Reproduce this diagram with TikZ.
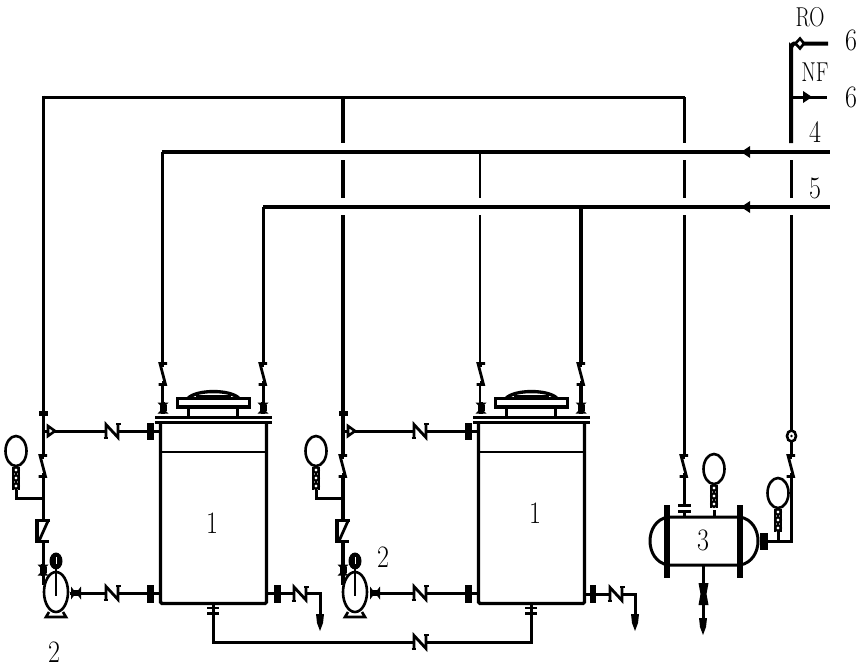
\documentclass[tikz,border=0pt]{standalone}
\usepackage{graphicx}
\tikzset{
  pipe/.style={line width=3pt,line cap=butt},
  thinpipe/.style={line width=1.8pt},
  heavy/.style={line width=4pt},
  vlv/.style={line width=2.8pt},
  lbl/.style={inner sep=0pt,font=\fontsize{26}{26}\selectfont},
  small/.style={inner sep=0pt,font=\fontsize{21}{21}\selectfont}
}
\newcommand{\lab}[2]{\scalebox{1}[#1]{#2}}
% vertical S valve, centre x,y
\newcommand{\svalve}[2]{\begin{scope}[shift={(#1,#2)}]
  \fill[white] (-5,-9) rectangle (5,9);
  \draw[vlv,line join=miter] (4,-10.5) -- (-3,-10.5) -- (2.5,10.5) -- (-4.5,10.5);
  \draw[vlv] (-2,-8) -- (1,-8) (-1,8) -- (2,8);
\end{scope}}
% horizontal N valve
\newcommand{\nvalve}[2]{\begin{scope}[shift={(#1,#2)}]
  \fill[white] (-6,-8) rectangle (6,8);
  \draw[vlv] (-6,7.5) -- (-6,-6.5) -- (6,6.5) -- (6,-7.5);
  \draw[line width=2pt] (-8.5,7) -- (-4,7) (4,-7) -- (8.5,-7);
\end{scope}}
% vertical bowtie valve
\newcommand{\xvalve}[2]{\fill (#1-5.5,#2-5.5) -- (#1+5.5,#2-5.5) -- (#1-5.5,#2+5.5) -- (#1+5.5,#2+5.5) -- cycle;
  \fill (#1-3.5,#2-3) rectangle (#1+3.5,#2+3);
  \fill (#1-2,#2-6) rectangle (#1+2,#2+6);}
% horizontal bowtie
\newcommand{\hbow}[2]{\fill (#1-5,#2-6.5) -- (#1+5,#2+6.5) -- (#1+5,#2-6.5) -- (#1-5,#2+6.5) -- cycle;
  \fill (#1-3,#2-3) rectangle (#1+3,#2+3);}
% flange
\newcommand{\flange}[4]{\fill (#1-#3/2,#2-#4/2) rectangle (#1+#3/2,#2+#4/2);}
% gauge: ellipse centre, then stacked beads downward
\newcommand{\gauge}[2]{\draw[line width=2.6pt,fill=white] (#1,#2) ellipse (10.5 and 15);
  \draw[line width=2.4pt] (#1-3.2,#2+16) -- (#1-3.2,#2+39) (#1+3.2,#2+16) -- (#1+3.2,#2+39);
  \foreach \k in {19,27,35}{\draw[line width=2.4pt,fill=white] (#1,#2+\k) circle (2.8);}}
% pump
\newcommand{\pump}[2]{\draw[line width=2.6pt,fill=white] (#1,#2) ellipse (12 and 20);
  \fill (#1,#2-31) ellipse (6.5 and 8.5);
  \fill[white] (#1-.5,#2-35) rectangle (#1+.5,#2-28);
  \draw[line width=2.6pt] (#1,#2-23) -- (#1,#2+4);
  \draw[line width=2.6pt,line join=miter] (#1-7,#2+20) -- (#1-10,#2+25) -- (#1+10,#2+25) -- (#1+7,#2+20);
  \hbow{#1+20}{#2+1}}
% down-pointing drain arrow
\newcommand{\drain}[2]{\fill (#1-4,#2-9) -- (#1+4,#2-9) -- (#1+3,#2) -- (#1,#2+8) -- (#1-3,#2) -- cycle;}
% open triangle on a horizontal pipe
\newcommand{\opent}[2]{\draw[line width=2.6pt,fill=white,line join=miter] (#1,#2-5) -- (#1+7,#2) -- (#1,#2+5) -- cycle;}
% tank
\newcommand{\tank}[1]{\begin{scope}[shift={(#1,0)}]
  \draw[line width=3.2pt,rounded corners=1.5pt] (160.5,423) -- (160.5,603.5) -- (266.5,603.5) -- (266.5,423);
  \draw[line width=1.9pt] (161,452) -- (266,452);
  \draw[line width=3pt] (155,417) -- (272,417);
  \draw[line width=3pt] (155,422.5) -- (272,422.5);
  \draw[line width=3pt] (188,408) -- (188,417) (237,408) -- (237,417);
  \draw[line width=3.2pt] (177.5,398.5) rectangle (249.5,407);
  \fill (187,397) .. controls (196,387.5) and (231,387.5) .. (240,397) -- (234,397) .. controls (226,392) and (201,392) .. (193,397) -- cycle;
  \draw[line width=2pt] (196,396) -- (231,396);
  \xvalve{163}{408}
  \xvalve{263}{408}
  \svalve{163}{374}
  \svalve{263}{374}
\end{scope}}
\begin{document}
\begin{tikzpicture}[x=1pt,y=-1pt]
\useasboundingbox (0,0) rectangle (864,667);
\fill[white] (0,0) rectangle (864,667);
% junctions and ends
\coordinate (topL) at (43,97);
\coordinate (topM) at (343,97);
\coordinate (topR) at (684,97);
\coordinate (l4a) at (162,152);
\coordinate (l4b) at (480,152);
\coordinate (l4e) at (830,152);
\coordinate (l5a) at (263,207);
\coordinate (l5b) at (581,207);
\coordinate (l5e) at (830,207);
% header lines
\draw[pipe] (43,97) -- (684.5,97);
\draw[pipe] (43,95.5) -- (43,585);
\draw[heavy] (topM) -- (343,143) (343,160) -- (343,198) (343,215) -- (343,585);
\draw[pipe] (topR) -- (684,143) (684,160) -- (684,198) (684,215) -- (684,505);
\draw[line width=3.6pt] (l4a) -- (l4e);
\draw[line width=3.6pt] (l5a) -- (l5e);
\draw[pipe] (l4a) -- (162,410);
\draw[thinpipe] (l4b) -- (480,198) (480,215) -- (480,410);
\draw[pipe] (l5a) -- (263,410);
\draw[heavy] (l5b) -- (581,410);
\fill (750,146) -- (750,158) -- (741,152) -- cycle;
\fill (750,201) -- (750,213) -- (741,207) -- cycle;
% right riser and product lines
\draw[heavy] (828,43.5) -- (794,43.5) to[out=180,in=-90] (791,47) -- (791,143);
\draw[pipe] (791,160) -- (791,198) (791,215) -- (791,541) -- (767,541);
\draw[pipe] (791,97) -- (827,97);
\draw[line width=2.6pt,fill=white] (800,38.5) -- (795.5,43.5) -- (800,48.5) -- (804,43.5) -- cycle;
\fill (803,91) -- (812,97) -- (803,103) -- cycle;
% tanks
\tank{0}
\tank{318}
% tank 1 piping
\draw[pipe] (43,431) -- (160,431);
\draw[pipe] (70,593) -- (160,593);
\opent{48}{431}
\nvalve{112}{431}
\nvalve{112}{593}
\flange{150}{431.5}{7}{17}
\flange{150}{593.5}{7}{18}
\fill (39,411) rectangle (48,416);
\svalve{43}{466}
\draw[pipe] (16,490) -- (16,498) -- (43,498);
\gauge{16}{451}
\fill[white] (36,521) rectangle (50,541);
\draw[line width=3.6pt,line join=miter] (50,520.5) -- (37,520.5) -- (37,541.5) -- (49,541.5);
\draw[vlv] (48,521) -- (39,541);
\xvalve{43}{570}
\pump{56}{592}
% tank 1 drain
\draw[pipe] (266,593.5) -- (320,593.5) -- (320,625);
\flange{277}{593.5}{7}{18}
\nvalve{300}{593.5}
\drain{320}{623}
% tank 2 piping
\draw[pipe] (343,431) -- (478,431);
\draw[pipe] (370,593) -- (478,593);
\opent{348}{431}
\nvalve{420}{431}
\nvalve{420}{593}
\flange{468}{431.5}{7}{17}
\flange{468}{593.5}{7}{18}
\fill (339,411) rectangle (348,416);
\svalve{343}{466}
\draw[pipe] (316,490) -- (316,498) -- (343,498);
\gauge{316}{451}
\fill[white] (336,521) rectangle (350,541);
\draw[line width=3.6pt,line join=miter] (350,520.5) -- (337,520.5) -- (337,541.5) -- (349,541.5);
\draw[vlv] (348,521) -- (339,541);
\xvalve{343}{570}
\pump{355}{592}
% tank 2 drain
\draw[pipe] (584,594) -- (635,594) -- (635,625);
\flange{593}{594}{6}{18}
\nvalve{616}{594}
\drain{635}{623}
% bottom transfer line
\draw[pipe] (213,604) -- (213,642) -- (531,642) -- (531,604);
\draw[line width=2.4pt] (207,608) -- (219,608) (207,613.5) -- (219,613.5);
\draw[line width=2.4pt] (525,608) -- (537,608) (525,613.5) -- (537,613.5);
\nvalve{420}{642}
% filter 3
\draw[line width=3pt,fill=white] (668,517) .. controls (644,521) and (644,561) .. (668,565) -- (740,565) .. controls (764,561) and (764,521) .. (740,517) -- cycle;
\fill (664,505) rectangle (670,578);
\fill (737,505) rectangle (743,578);
\draw[pipe] (684,511) -- (684,517);
\draw[line width=3pt] (678,505.5) -- (691,505.5) (678,511) -- (691,511);
\svalve{684}{466}
\draw[pipe] (714,510) -- (714,517);
\gauge{714}{469}
\draw[pipe] (703,565) -- (703,625);
\fill (698.5,583) -- (708.5,583) -- (706.5,594) -- (708.5,605) -- (698.5,605) -- (700.5,594) -- cycle;
\drain{703}{627}
\flange{764}{541.5}{7.5}{17}
\draw[pipe] (778,530) -- (778,541);
\gauge{778}{493}
\svalve{791}{466}
\draw[line width=2.6pt,fill=white] (791.5,436) ellipse (4.5 and 5.5);
\fill (791.5,436) circle (1.4);
% labels
\node[lbl] (n1a) at (212,523) {\lab{1.2}{1}};
\node[lbl] (n1b) at (535,513) {\lab{1.2}{1}};
\node[lbl] (n2a) at (54,652) {\lab{1.2}{2}};
\node[lbl] (n2b) at (383,557) {\lab{1.2}{2}};
\node[lbl] (n3) at (703,540) {\lab{1.2}{3}};
\node[lbl] (n4) at (815,132) {\lab{1.2}{4}};
\node[lbl] (n5) at (815,188) {\lab{1.2}{5}};
\node[lbl] (n6a) at (851,40) {\lab{1.2}{6}};
\node[lbl] (n6b) at (851,97) {\lab{1.2}{6}};
\node[small] (ro) at (810,17) {\lab{1.3}{RO}};
\node[small] (nf) at (815,72) {\lab{1.3}{NF}};
\end{tikzpicture}
\end{document}
